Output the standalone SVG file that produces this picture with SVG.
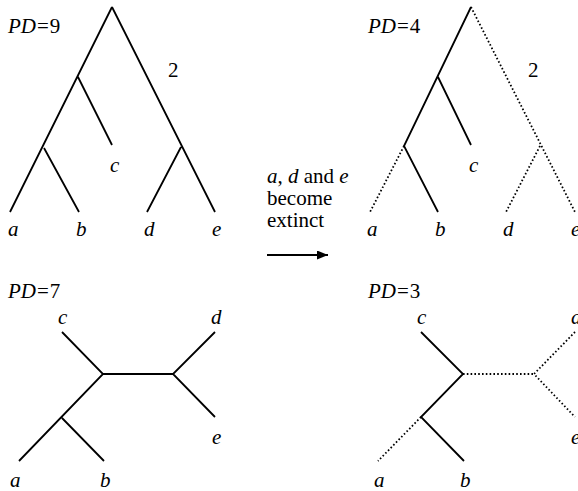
<svg xmlns="http://www.w3.org/2000/svg" width="578" height="491" viewBox="0 0 578 491">
<defs>
<style>
.s{stroke:#000;stroke-width:1.8;fill:none}
.d{stroke:#000;stroke-width:1.8;fill:none;stroke-dasharray:1.6 2.2}
.i{font-style:italic}
.n{font-style:normal}
</style>
<marker id="ah" markerWidth="11" markerHeight="9" refX="11" refY="4.5" orient="auto" markerUnits="userSpaceOnUse">
<path d="M0,0 L11,4.5 L0,9 z" fill="#000"/>
</marker>
</defs>
<g id="connectors">
<path class="s" d="M112,7 L10,212 M112,7 L215,212 M78,77 L112,145 M44,148 L79,212 M181,147 L147,212"/>
<path class="s" d="M471,7 L404,146 L438,212 M438,77 L471,145"/>
<path class="d" d="M404,146 L370,212 M471,7 L575,212 M540,146 L506,212"/>
<path class="s" d="M62,332 L103,374 L19,461 M62,418 L104,461 M103,374 L173,374 M215,332 L173,374 L215,417"/>
<path class="s" d="M421,332 L463,374 L421,417 L464,461"/>
<path class="d" d="M421,417 L378,461 M463,374 L534,374 M575,332 L534,374 L575,417"/>
<line class="s" x1="267" y1="255" x2="328" y2="255" marker-end="url(#ah)"/>
</g>
<g id="labels" font-family="Liberation Serif" font-size="21" fill="#000">
<text x="8" y="33" class="i">PD<tspan class="n" dx="1">=</tspan><tspan class="n" dx="1">9</tspan></text>
<text x="168" y="77">2</text>
<text x="110" y="172" class="i">c</text>
<text x="8" y="236" class="i">a</text>
<text x="76" y="236" class="i">b</text>
<text x="144" y="236" class="i">d</text>
<text x="212" y="236" class="i">e</text>
<text x="368" y="33" class="i">PD<tspan class="n" dx="1">=</tspan><tspan class="n" dx="1">4</tspan></text>
<text x="528" y="77">2</text>
<text x="469" y="172" class="i">c</text>
<text x="367" y="236" class="i">a</text>
<text x="435" y="236" class="i">b</text>
<text x="503" y="236" class="i">d</text>
<text x="571" y="236" class="i">e</text>
<text x="267" y="183"><tspan class="i">a</tspan>, <tspan class="i">d</tspan> and <tspan class="i">e</tspan></text>
<text x="267" y="205">become</text>
<text x="267" y="227">extinct</text>
<text x="8" y="298" class="i">PD<tspan class="n" dx="1">=</tspan><tspan class="n" dx="1">7</tspan></text>
<text x="58" y="324" class="i">c</text>
<text x="211" y="324" class="i">d</text>
<text x="212" y="444" class="i">e</text>
<text x="10" y="487" class="i">a</text>
<text x="100" y="487" class="i">b</text>
<text x="368" y="298" class="i">PD<tspan class="n" dx="1">=</tspan><tspan class="n" dx="1">3</tspan></text>
<text x="417" y="324" class="i">c</text>
<text x="571" y="324" class="i">d</text>
<text x="571" y="444" class="i">e</text>
<text x="374" y="487" class="i">a</text>
<text x="460" y="487" class="i">b</text>
</g>
</svg>
